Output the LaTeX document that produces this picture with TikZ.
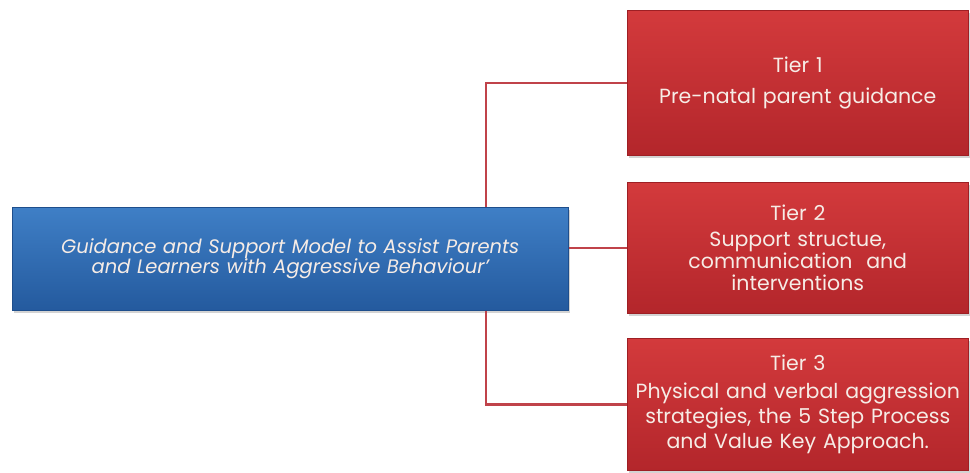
\documentclass[tikz,border=0pt]{standalone}
\usepackage{fontspec}
\setmainfont{Poppins}
\usetikzlibrary{shadows}
\definecolor{tiertop}{HTML}{D33A3C}
\definecolor{tierbot}{HTML}{B3262B}
\definecolor{tierline}{HTML}{9E1F24}
\definecolor{bluetop}{HTML}{3F7FC6}
\definecolor{bluebot}{HTML}{245A9E}
\definecolor{blueline}{HTML}{1E4E8C}
\definecolor{connred}{HTML}{C0434A}
\definecolor{lighttext}{HTML}{F6ECE6}
\begin{document}
\begin{tikzpicture}[x=1pt,y=-1pt]
\useasboundingbox (0,0) rectangle (970,473);
\tikzset{
  boxbase/.style={rectangle, anchor=north west, inner sep=1pt, align=center,
    text=lighttext, drop shadow={opacity=0.35, shadow xshift=2pt, shadow yshift=-3pt}},
  tierbox/.style={boxbase, draw=tierline, line width=0.6pt, top color=tiertop, bottom color=tierbot,
    minimum width=341pt, text width=339pt, font=\fontsize{20.5}{25}\selectfont},
  mainbox/.style={boxbase, draw=blueline, line width=0.6pt, top color=bluetop, bottom color=bluebot,
    minimum width=556pt, minimum height=103pt, text width=552pt, font=\itshape\fontsize{19.5}{20}\selectfont},
  conn/.style={draw=connred, line width=2.4pt}
}
\node[mainbox] (main) at (12,207) {Guidance and Support Model to Assist Parents\\and Learners with Aggressive Behaviour\textquoteright};
\node[tierbox, minimum height=145pt] (t1) at (627,10) {Tier 1\\[6pt]Pre-natal parent guidance};
\node[tierbox, minimum height=131pt] (t2) at (627,182) {Tier 2\\[1pt]Support structue,\\[-3pt]communication \ and\\[-3pt]interventions};
\node[tierbox, minimum height=132pt] (t3) at (627,338) {Tier 3\\[3pt]Physical and verbal aggression\\strategies, the 5 Step Process\\and Value Key Approach.};
\coordinate (j) at (486,0);
\draw[conn] (main.north -| j) |- (t1.west);
\draw[conn] (main.east |- t2.west) -- (t2.west);
\draw[conn] (main.south -| j) |- (t3.west);
\end{tikzpicture}
\end{document}
